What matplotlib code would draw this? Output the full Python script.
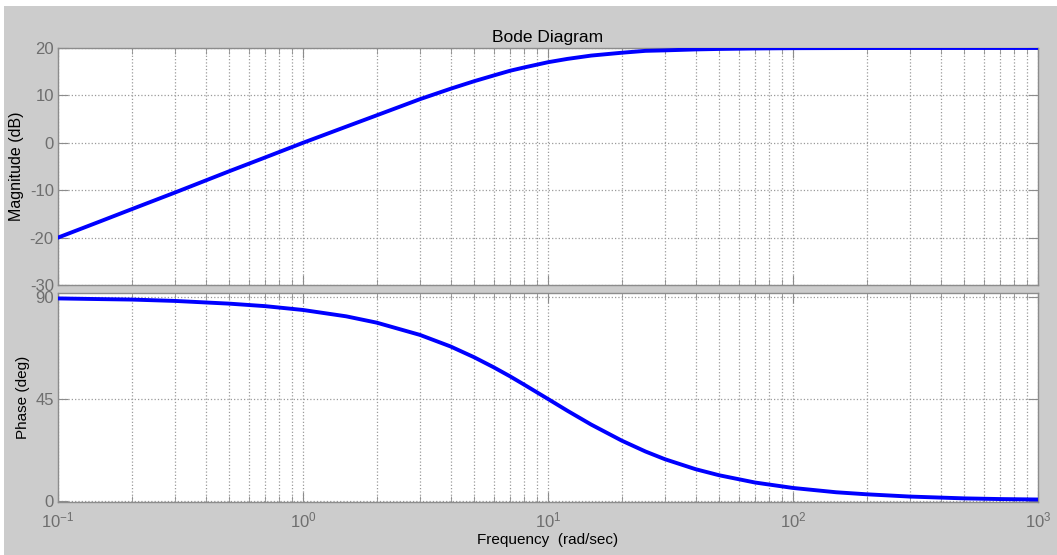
import numpy as np
import matplotlib
matplotlib.use("Agg")
import matplotlib.pyplot as plt
from matplotlib.patches import Rectangle

plt.rcParams['font.family'] = ['Liberation Sans', 'DejaVu Sans']
plt.rcParams['axes.unicode_minus'] = False

# values
freq = [0.1, 0.15, 0.2, 0.3, 0.5, 0.7, 1, 1.5, 2, 3, 4, 5, 6, 7, 8, 10, 12, 15,
        20, 25, 30, 40, 50, 70, 100, 150, 200, 300, 500, 700, 1000]
mag_db = [-20.0, -16.5, -14.0, -10.5, -6.0, -3.1, 0.0, 3.4, 5.8, 9.2, 11.4, 13.0,
          14.2, 15.2, 15.9, 17.0, 17.7, 18.4, 19.0, 19.4, 19.5, 19.7, 19.8, 19.9,
          19.96, 19.98, 19.99, 20.0, 20.0, 20.0, 20.0]
phase_deg = [89.4, 89.1, 88.9, 88.3, 87.1, 86.0, 84.3, 81.5, 78.7, 73.3, 68.2, 63.4,
             59.0, 55.0, 51.3, 45.0, 39.8, 33.7, 26.6, 21.8, 18.4, 14.0, 11.3, 8.1,
             5.7, 3.8, 2.9, 1.9, 1.1, 0.8, 0.6]
mag_ticks = [-30, -20, -10, 0, 10, 20]
phase_ticks = [0, 45, 90]

W, H = 1057, 555
fig = plt.figure(figsize=(W / 100, H / 100), dpi=100, facecolor='white')
# gray window area (thin white strip at top and left like the screenshot)
fig.patches.append(Rectangle((4 / W, 0), 1, 1 - 6 / H, transform=fig.transFigure,
                             facecolor='#cccccc', edgecolor='none', zorder=-10))

left, right = 58 / W, 1038 / W
ax1 = fig.add_axes([left, 1 - 285 / H, right - left, (285 - 48) / H])
ax2 = fig.add_axes([left, 1 - 502 / H, right - left, (502 - 293) / H])

tick_col = '#6e6e6e'
spine_col = '#8c8c8c'
grid_col = '#9a9a9a'


def style(ax):
    ax.set_xscale('log')
    ax.set_xlim(0.1, 1000)
    ax.set_facecolor('white')
    for s in ax.spines.values():
        s.set_color(spine_col)
        s.set_linewidth(1.0)
    ax.tick_params(which='both', direction='in', top=True, right=True,
                   colors=spine_col, labelcolor=tick_col, labelsize=12)
    ax.tick_params(which='major', length=7, pad=3)
    ax.tick_params(which='minor', length=4)
    ax.tick_params(axis='x', which='major', pad=6)
    ax.grid(True, which='major', linestyle=':', color=grid_col, linewidth=0.9)
    ax.grid(True, which='minor', axis='x', linestyle=':', color=grid_col, linewidth=0.9)


style(ax1)
style(ax2)

ax1.plot(freq, mag_db, color='#0000ff', linewidth=2.8, zorder=3)
ax1.set_ylim(-30, 20)
ax1.set_yticks(mag_ticks)
ax1.tick_params(labelbottom=False)
ax1.set_ylabel('Magnitude (dB)', fontsize=11.5)
ax1.yaxis.set_label_coords(-0.0347, 0.5)
ax1.set_title('Bode Diagram', fontsize=12.5, pad=4)

ax2.plot(freq, phase_deg, color='#0000ff', linewidth=2.8, zorder=3)
ax2.set_ylim(-0.5, 91.8)
ax2.set_yticks(phase_ticks)
ax2.set_ylabel('Phase (deg)', fontsize=11)
ax2.yaxis.set_label_coords(-0.0286, 0.5)
ax2.set_xlabel('Frequency  (rad/sec)', fontsize=11, labelpad=2)

fig.savefig('out.png', dpi=100, facecolor=fig.get_facecolor())
